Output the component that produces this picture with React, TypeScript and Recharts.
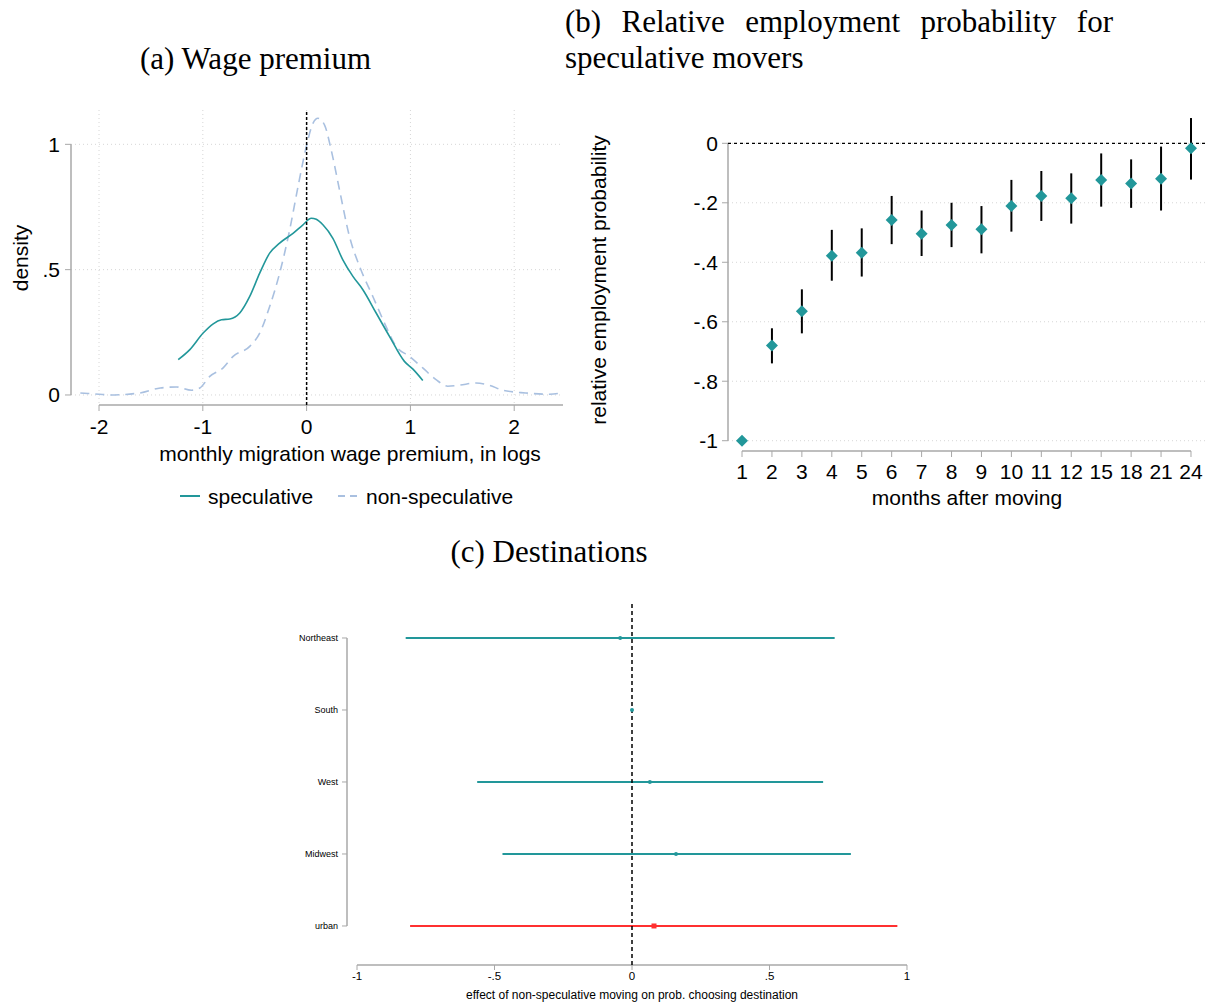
import React from 'react';
import {
  ComposedChart,
  Line,
  XAxis,
  YAxis,
  CartesianGrid,
  ReferenceLine,
  Scatter,
  ErrorBar,
} from 'recharts';

// ---------- Panel (a): wage premium densities ----------
const specX = [-1.237, -1.125, -0.997, -0.9, -0.82, -0.74, -0.644, -0.548, -0.452, -0.356, -0.26, -0.131, -0.035, 0.045, 0.093, 0.157, 0.253, 0.349, 0.446, 0.542, 0.67, 0.798, 0.942, 1.022, 1.119];
const specY = [0.141, 0.181, 0.247, 0.284, 0.3, 0.303, 0.327, 0.393, 0.486, 0.566, 0.606, 0.645, 0.679, 0.705, 0.701, 0.679, 0.625, 0.539, 0.473, 0.42, 0.327, 0.234, 0.134, 0.104, 0.058];

const nonSpecX = [-2.18, -2.0, -1.894, -1.606, -1.41, -1.253, -1.109, -1.029, -0.933, -0.804, -0.708, -0.548, -0.452, -0.356, -0.26, -0.163, -0.083, -0.003, 0.061, 0.109, 0.173, 0.237, 0.317, 0.413, 0.51, 0.638, 0.75, 0.862, 0.99, 1.119, 1.247, 1.359, 1.471, 1.631, 1.76, 1.888, 2.11, 2.34, 2.46];
const nonSpecY = [0.008, 0.003, 0.0, 0.008, 0.028, 0.032, 0.019, 0.028, 0.074, 0.108, 0.154, 0.194, 0.247, 0.353, 0.486, 0.659, 0.831, 0.991, 1.084, 1.104, 1.077, 0.977, 0.818, 0.632, 0.513, 0.393, 0.287, 0.194, 0.154, 0.108, 0.061, 0.035, 0.039, 0.048, 0.039, 0.019, 0.008, 0.003, 0.008];

const aXTicks = [-2, -1, 0, 1, 2];
const aYTicks = [0, 0.5, 1];

// ---------- Panel (b): relative employment probability ----------
const months = ['1', '2', '3', '4', '5', '6', '7', '8', '9', '10', '11', '12', '15', '18', '21', '24'];
const empEst = [-1.0, -0.68, -0.565, -0.378, -0.368, -0.258, -0.304, -0.275, -0.289, -0.211, -0.177, -0.185, -0.123, -0.135, -0.119, -0.017];
const empLo = [-1.0, -0.74, -0.639, -0.462, -0.448, -0.339, -0.379, -0.349, -0.37, -0.297, -0.261, -0.27, -0.213, -0.217, -0.226, -0.122];
const empHi = [-1.0, -0.622, -0.491, -0.291, -0.286, -0.177, -0.226, -0.2, -0.211, -0.123, -0.093, -0.101, -0.034, -0.054, -0.011, 0.085];
const bYTicks = [0, -0.2, -0.4, -0.6, -0.8, -1];

// ---------- Panel (c): destinations ----------
const destCats = ['Northeast', 'South', 'West', 'Midwest', 'urban'];
const destEst = [-0.043, 0.0, 0.065, 0.16, 0.08];
const destLo = [-0.823, 0.0, -0.563, -0.471, -0.807];
const destHi = [0.737, 0.0, 0.695, 0.796, 0.965];
const cXTicks = [-1, -0.5, 0, 0.5, 1];

// ---------- derived tables ----------
const specData = specX.map((x, i) => ({ x, y: specY[i] }));
const nonSpecData = nonSpecX.map((x, i) => ({ x, y: nonSpecY[i] }));
const empData = months.map((m, i) => ({
  idx: i,
  est: empEst[i],
  err: [empEst[i] - empLo[i], empHi[i] - empEst[i]],
}));
const destAll = destCats.map((c, i) => ({
  pos: i,
  est: destEst[i],
  err: [destEst[i] - destLo[i], destHi[i] - destEst[i]],
}));
const destRegions = destAll.slice(0, 4);
const destUrban = destAll.slice(4);

const fmt = (v: number) => {
  if (Math.abs(v) < 1e-9) return '0';
  const s = String(Math.abs(v)).replace(/^0/, '');
  return (v < 0 ? '-' : '') + s;
};

const SANS = '"Liberation Sans", Arial, sans-serif';
const SERIF = '"Liberation Serif", "Times New Roman", serif';
const TEAL = '#22979a';
const LBLUE = '#a9c0e0';
const RED = '#ff3030';
const AXIS = '#a8a8a8';

const Label = ({ x, y, children, size = 21, rotate = false, anchor = 'center', font = SANS }: any) => (
  <div
    style={{
      position: 'absolute',
      left: x,
      top: y,
      transform:
        (anchor === 'center' ? 'translate(-50%, -50%)' : 'translate(0, -50%)') + (rotate ? ' rotate(-90deg)' : ''),
      fontFamily: font,
      fontSize: size,
      whiteSpace: 'nowrap',
      color: '#000',
      lineHeight: 1,
    }}
  >
    {children}
  </div>
);

const Diamond = (props: any) => {
  const { cx, cy } = props;
  if (cx == null || cy == null) return null;
  const r = 6;
  return <path d={`M${cx},${cy - r}L${cx + r},${cy}L${cx},${cy + r}L${cx - r},${cy}Z`} fill={TEAL} />;
};

const SmallDot = (props: any) => {
  const { cx, cy } = props;
  if (cx == null || cy == null) return null;
  return <circle cx={cx} cy={cy} r={2} fill={TEAL} />;
};

const SmallSquare = (props: any) => {
  const { cx, cy } = props;
  if (cx == null || cy == null) return null;
  return <rect x={cx - 2.5} y={cy - 2.5} width={5} height={5} fill={RED} />;
};

export default function App() {
  return (
    <div
      style={{
        position: 'absolute',
        left: 0,
        top: 0,
        width: 1215,
        height: 1004,
        background: '#fff',
        overflow: 'hidden',
      }}
    >
      {/* Titles */}
      <Label x={140} y={58} size={31} anchor="left" font={SERIF}>
        (a) Wage premium
      </Label>
      <div
        style={{
          position: 'absolute',
          left: 565,
          top: 4,
          width: 548,
          fontFamily: SERIF,
          fontSize: 31,
          lineHeight: '36px',
          textAlign: 'justify',
          textAlignLast: 'left',
          color: '#000',
        }}
      >
        (b) Relative employment probability for speculative movers
      </div>
      <Label x={549} y={551} size={31} font={SERIF}>
        (c) Destinations
      </Label>

      {/* Panel (a) */}
      <div style={{ position: 'absolute', left: 0, top: 0 }}>
        <ComposedChart width={580} height={520} margin={{ top: 110, right: 17, left: 11, bottom: 75 }}>
          <CartesianGrid
            stroke="#d6d6d6"
            strokeDasharray="1 3"
            horizontalValues={aYTicks}
            verticalValues={aXTicks}
          />
          <XAxis
            type="number"
            dataKey="x"
            domain={[-2.27, 2.47]}
            ticks={aXTicks}
            allowDataOverflow
            axisLine={false}
            tickLine={{ stroke: AXIS }}
            tickSize={6}
            tickMargin={8}
            height={40}
            tick={{ fill: '#000', fontSize: 21, fontFamily: SANS }}
            tickFormatter={fmt}
          />
          <YAxis
            type="number"
            dataKey="y"
            domain={[-0.04, 1.137]}
            ticks={aYTicks}
            allowDataOverflow
            axisLine={false}
            tickLine={{ stroke: AXIS }}
            tickSize={6}
            tickMargin={5}
            width={60}
            tick={{ fill: '#000', fontSize: 21, fontFamily: SANS }}
            tickFormatter={fmt}
          />
          <ReferenceLine
            segment={[{ x: -2, y: -0.04 }, { x: 2.47, y: -0.04 }]}
            stroke={AXIS}
            strokeWidth={1.5}
          />
          <ReferenceLine
            segment={[{ x: -2.27, y: 0 }, { x: -2.27, y: 1 }]}
            stroke={AXIS}
            strokeWidth={1.5}
          />
          <Line
            data={nonSpecData}
            dataKey="y"
            type="monotone"
            stroke={LBLUE}
            strokeWidth={1.6}
            strokeDasharray="9 6"
            dot={false}
            isAnimationActive={false}
          />
          <Line
            data={specData}
            dataKey="y"
            type="monotone"
            stroke={TEAL}
            strokeWidth={1.6}
            dot={false}
            isAnimationActive={false}
          />
          <ReferenceLine x={0} stroke="#000" strokeWidth={1.5} strokeDasharray="3 2" />
        </ComposedChart>
      </div>
      <Label x={20} y={258} rotate>
        density
      </Label>
      <Label x={350} y={453}>
        monthly migration wage premium, in logs
      </Label>
      {/* legend (a) */}
      <svg style={{ position: 'absolute', left: 170, top: 486 }} width={200} height={20}>
        <line x1={10} y1={10} x2={30} y2={10} stroke={TEAL} strokeWidth={2} />
        <line x1={168} y1={10} x2={190} y2={10} stroke={LBLUE} strokeWidth={2} strokeDasharray="7 5" />
      </svg>
      <Label x={208} y={496} anchor="left">
        speculative
      </Label>
      <Label x={366} y={496} anchor="left">
        non-speculative
      </Label>

      {/* Panel (b) */}
      <div style={{ position: 'absolute', left: 580, top: 0 }}>
        <ComposedChart width={635} height={520} margin={{ top: 115, right: 10, left: 88, bottom: 29 }}>
          <CartesianGrid
            stroke="#d6d6d6"
            strokeDasharray="1 3"
            vertical={false}
            horizontalValues={bYTicks}
          />
          <XAxis
            type="number"
            dataKey="idx"
            domain={[-0.468, 15.468]}
            ticks={months.map((_, i) => i)}
            allowDataOverflow
            axisLine={false}
            tickLine={{ stroke: AXIS }}
            tickSize={6}
            tickMargin={7}
            height={40}
            interval={0}
            tick={{ fill: '#000', fontSize: 21, fontFamily: SANS }}
            tickFormatter={(v: number) => months[v] ?? ''}
          />
          <YAxis
            type="number"
            dataKey="est"
            domain={[-1.0346, 0.0952]}
            ticks={bYTicks}
            allowDataOverflow
            axisLine={false}
            tickLine={{ stroke: AXIS }}
            tickSize={6}
            tickMargin={4}
            width={60}
            interval={0}
            tick={{ fill: '#000', fontSize: 21, fontFamily: SANS }}
            tickFormatter={fmt}
          />
          <ReferenceLine
            segment={[{ x: 0, y: -1.0346 }, { x: 15, y: -1.0346 }]}
            stroke={AXIS}
            strokeWidth={1.5}
          />
          <ReferenceLine
            segment={[{ x: -0.468, y: -1 }, { x: -0.468, y: 0 }]}
            stroke={AXIS}
            strokeWidth={1.5}
          />
          <ReferenceLine y={0} stroke="#000" strokeWidth={1.2} strokeDasharray="3 3" />
          <Scatter data={empData} dataKey="est" shape={<Diamond />} isAnimationActive={false}>
            <ErrorBar dataKey="err" direction="y" width={0} stroke="#000" strokeWidth={2} />
          </Scatter>
        </ComposedChart>
      </div>
      <Label x={598} y={280} rotate>
        relative employment probability
      </Label>
      <Label x={967} y={497}>
        months after moving
      </Label>

      {/* Panel (c) */}
      <div style={{ position: 'absolute', left: 250, top: 580 }}>
        <ComposedChart width={700} height={424} margin={{ top: 23, right: 33, left: 37, bottom: 19 }}>
          <XAxis
            type="number"
            dataKey="est"
            domain={[-1.0364, 1.0364]}
            ticks={cXTicks}
            allowDataOverflow
            axisLine={false}
            tickLine={{ stroke: AXIS }}
            tickSize={5}
            tickMargin={2}
            height={20}
            interval={0}
            tick={{ fill: '#000', fontSize: 11.5, fontFamily: SANS }}
            tickFormatter={fmt}
          />
          <YAxis
            type="number"
            dataKey="pos"
            domain={[-0.486, 4.542]}
            reversed
            ticks={destCats.map((_, i) => i)}
            allowDataOverflow
            axisLine={false}
            tickLine={{ stroke: AXIS }}
            tickSize={5}
            tickMargin={4}
            width={60}
            interval={0}
            tick={{ fill: '#000', fontSize: 9, fontFamily: SANS }}
            tickFormatter={(v: number) => destCats[v] ?? ''}
          />
          <ReferenceLine
            segment={[{ x: -1, y: 4.542 }, { x: 1, y: 4.542 }]}
            stroke={AXIS}
            strokeWidth={1.5}
          />
          <ReferenceLine
            segment={[{ x: -1.0364, y: 0 }, { x: -1.0364, y: 4 }]}
            stroke={AXIS}
            strokeWidth={1.5}
          />
          <Scatter data={destRegions} shape={<SmallDot />} isAnimationActive={false}>
            <ErrorBar dataKey="err" direction="x" width={0} stroke={TEAL} strokeWidth={2} />
          </Scatter>
          <Scatter data={destUrban} shape={<SmallSquare />} isAnimationActive={false}>
            <ErrorBar dataKey="err" direction="x" width={0} stroke={RED} strokeWidth={2} />
          </Scatter>
          <ReferenceLine x={0} stroke="#000" strokeWidth={1.5} strokeDasharray="4 3" />
        </ComposedChart>
      </div>
      <Label x={632} y={995} size={12}>
        effect of non-speculative moving on prob. choosing destination
      </Label>
    </div>
  );
}
